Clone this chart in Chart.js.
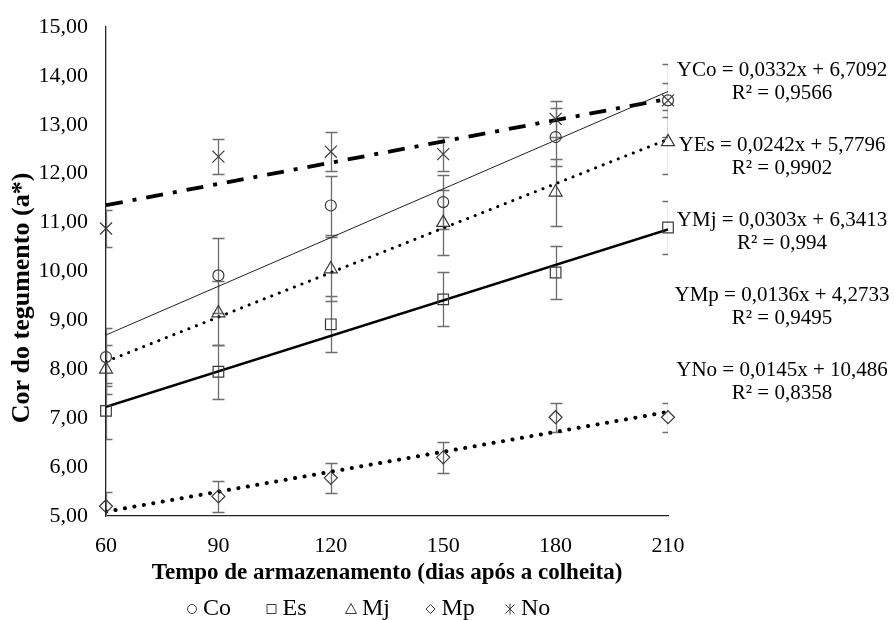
<!DOCTYPE html>
<html>
<head>
<meta charset="utf-8">
<script src="https://cdn.jsdelivr.net/npm/chart.js@4.4.1/dist/chart.umd.min.js"></script>
<style>
  html, body { margin: 0; background: #fff; }
</style>
</head>
<body>
<canvas id="cor-chart" width="895" height="620"></canvas>
<script>
// storage time (days after harvest)
const days = [60, 90, 120, 150, 180, 210];
const seriesNames = ['Co', 'Es', 'Mj', 'Mp', 'No'];

// mean a* values
const coValues = [8.25, 9.92, 11.35, 11.42, 12.75, 13.5];
const esValues = [7.15, 7.95, 8.92, 9.43, 9.98, 10.9];
const mjValues = [8.0, 9.15, 10.05, 11.0, 11.62, 12.65];
const mpValues = [5.2, 5.4, 5.78, 6.2, 7.02, 7.02];
const noValues = [10.88, 12.35, 12.45, 12.4, 13.12, 13.5];

// +/- error bar half lengths
const coErrors = [0.6, 0.77, 0.6, 0.55, 0.6, 0.75];
const esErrors = [0.57, 0.55, 0.57, 0.55, 0.55, 0.55];
const mjErrors = [0.5, 0.65, 0.65, 0.66, 0.68, 0.65];
const mpErrors = [0.3, 0.32, 0.3, 0.32, 0.3, 0.3];
const noErrors = [0.38, 0.36, 0.4, 0.35, 0.37, 0.35];

// linear fits as printed on the chart
const slopes = [0.0332, 0.0242, 0.0303, 0.0136, 0.0145];
const intercepts = [6.7092, 5.7796, 6.3413, 4.2733, 10.486];
const rSquared = [0.9566, 0.9902, 0.994, 0.9495, 0.8358];

const seriesValues = [coValues, esValues, mjValues, mpValues, noValues];
const seriesErrors = [coErrors, esErrors, mjErrors, mpErrors, noErrors];

const FONT = '"Liberation Serif", "Times New Roman", serif';
const markerColor = '#3a3a3a';
const markerStyles = ['circle', 'rect', 'triangle', 'rectRot', 'crossRot'];
const markerSizes = [5.5, 7.5, 7.5, 6.5, 8.5];

const trendStyles = [
  { borderColor: '#222', borderWidth: 1, borderDash: [] },
  { borderColor: '#000', borderWidth: 2.6, borderDash: [] },
  { borderColor: '#000', borderWidth: 3, borderDash: [0.1, 8], borderCapStyle: 'round' },
  { borderColor: '#000', borderWidth: 4, borderDash: [0.1, 9.5], borderCapStyle: 'round' },
  { borderColor: '#000', borderWidth: 3.8, borderDash: [17, 10, 4, 10] },
];

const fmt = v => String(v).replace('.', ',');

const markerSets = seriesNames.map((name, s) => ({
  type: 'scatter',
  label: name,
  data: days.map((d, i) => ({ x: d, y: seriesValues[s][i] })),
  pointStyle: markerStyles[s],
  pointRadius: markerSizes[s],
  pointBorderColor: markerColor,
  pointBackgroundColor: 'rgba(0,0,0,0)',
  pointBorderWidth: 1.2,
  showLine: false,
  clip: false,
}));

const trendSets = seriesNames.map((name, s) => ({
  type: 'line',
  label: 'Y' + name,
  data: [days[0], days[days.length - 1]].map(d => ({ x: d, y: slopes[s] * d + intercepts[s] })),
  pointRadius: 0,
  fill: false,
  tension: 0,
  ...trendStyles[s],
}));

const errorBars = {
  id: 'errorBars',
  beforeDatasetsDraw(chart) {
    const { ctx, chartArea: a, scales: { x, y } } = chart;
    ctx.save();
    ctx.beginPath();
    ctx.rect(a.left, a.top, a.right - a.left, a.bottom - a.top);
    ctx.clip();
    ctx.strokeStyle = '#6e6e6e';
    ctx.lineWidth = 1.3;
    seriesErrors.forEach((errs, s) => {
      seriesValues[s].forEach((v, i) => {
        const px = Math.round(x.getPixelForValue(days[i])) + 0.5;
        const top = Math.round(y.getPixelForValue(v + errs[i])) + 0.5;
        const bot = Math.round(y.getPixelForValue(v - errs[i])) + 0.5;
        ctx.beginPath();
        ctx.moveTo(px, top); ctx.lineTo(px, bot);
        ctx.moveTo(px - 6, top); ctx.lineTo(px + 6, top);
        ctx.moveTo(px - 6, bot); ctx.lineTo(px + 6, bot);
        ctx.stroke();
      });
    });
    ctx.restore();
  }
};

function legendMarker(ctx, style, x, y) {
  const r = 4.5;
  ctx.beginPath();
  if (style === 'circle') {
    ctx.arc(x, y, r, 0, Math.PI * 2);
  } else if (style === 'rect') {
    ctx.rect(x - r, y - r, 2 * r, 2 * r);
  } else if (style === 'triangle') {
    ctx.moveTo(x, y - r - 1); ctx.lineTo(x + r + 1, y + r); ctx.lineTo(x - r - 1, y + r); ctx.closePath();
  } else if (style === 'rectRot') {
    ctx.moveTo(x, y - r); ctx.lineTo(x + r, y); ctx.lineTo(x, y + r); ctx.lineTo(x - r, y); ctx.closePath();
  } else {
    ctx.moveTo(x - r, y - r); ctx.lineTo(x + r, y + r);
    ctx.moveTo(x + r, y - r); ctx.lineTo(x - r, y + r);
    ctx.moveTo(x, y - r - 1); ctx.lineTo(x, y + r + 1);
  }
  ctx.stroke();
}

const annotations = {
  id: 'annotations',
  afterDraw(chart) {
    const ctx = chart.ctx;
    ctx.save();
    ctx.fillStyle = '#000';

    // equations on the right
    ctx.font = '21px ' + FONT;
    ctx.textAlign = 'center';
    ctx.textBaseline = 'middle';
    seriesNames.forEach((name, s) => {
      const cy = 70 + s * 75;
      ctx.fillText('Y' + name + ' = ' + fmt(slopes[s]) + 'x + ' + fmt(intercepts[s]), 782, cy);
      ctx.fillText('R\u00b2 = ' + fmt(rSquared[s]), 782, cy + 23);
    });

    // y axis title
    ctx.save();
    ctx.translate(22, 298);
    ctx.rotate(-Math.PI / 2);
    ctx.font = 'bold 26px ' + FONT;
    ctx.fillText('Cor do tegumento (a*)', 0, 0);
    ctx.restore();

    // legend
    ctx.font = '24px ' + FONT;
    ctx.textAlign = 'left';
    ctx.strokeStyle = markerColor;
    ctx.lineWidth = 1;
    const ly = 609;
    seriesNames.forEach((name, s) => {
      const lx = 192 + s * 79.5;
      legendMarker(ctx, markerStyles[s], lx, ly);
      ctx.fillText(name, lx + 11, ly);
    });
    ctx.restore();
  }
};

new Chart(document.getElementById('cor-chart'), {
  type: 'scatter',
  data: { datasets: [...markerSets, ...trendSets] },
  options: {
    responsive: false,
    animation: false,
    events: [],
    layout: { padding: { left: 0, top: 27, right: 227, bottom: 0 } },
    plugins: { legend: { display: false }, tooltip: { enabled: false } },
    scales: {
      x: {
        type: 'linear',
        min: 60,
        max: 210,
        afterFit(scale) { scale.height = 104; scale.paddingLeft = 0; scale.paddingRight = 0; },
        grid: { display: false, drawTicks: false },
        border: { display: true, color: '#222', width: 1.3 },
        ticks: { stepSize: 30, padding: 17, color: '#000', font: { family: FONT, size: 22 } },
        title: {
          display: true,
          text: 'Tempo de armazenamento (dias após a colheita)',
          color: '#000',
          font: { family: FONT, size: 23, weight: 'bold' },
          padding: { top: 0, bottom: 33 },
        },
      },
      y: {
        min: 5,
        max: 15,
        afterFit(scale) { scale.width = 106; scale.paddingTop = 0; scale.paddingBottom = 0; },
        grid: { display: false, drawTicks: false },
        border: { display: true, color: '#222', width: 1.3 },
        ticks: {
          stepSize: 1,
          padding: 18,
          color: '#000',
          font: { family: FONT, size: 22 },
          callback: v => v.toFixed(2).replace('.', ','),
        },
      },
    },
  },
  plugins: [errorBars, annotations],
});
</script>
</body>
</html>
